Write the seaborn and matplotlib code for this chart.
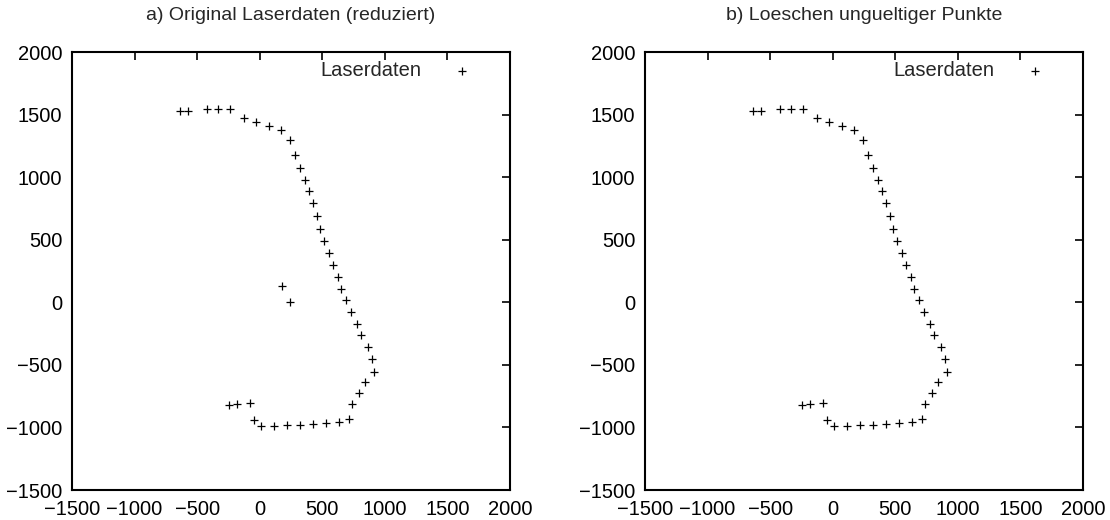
import numpy as np
import pandas as pd
import matplotlib
matplotlib.use("Agg")
import matplotlib.pyplot as plt
import seaborn as sns

# Reduced laser scan (x, y in mm)
scan_x = [-637, -571, -422, -337, -238, -122, -28, 71, 173, 245, 283, 322, 358,
          391, 424, 454, 484, 517, 553, 586, 622, 652, 691, 730, 774, 812, 862,
          898, 912, 845, 790, 735, 710, 630, 528, 424, 322, 220, 115, 10, -48,
          -75, -183, -243]
scan_y = [1531, 1531, 1544, 1544, 1547, 1472, 1440, 1406, 1374, 1294, 1179, 1075,
          979, 888, 790, 688, 587, 489, 393, 297, 201, 110, 19, -79, -175, -263,
          -359, -450, -556, -639, -727, -815, -932, -959, -967, -970, -980, -980,
          -986, -991, -938, -804, -812, -823]

# Invalid readings present only in the raw scan
invalid_x = [176, 239]
invalid_y = [129, 0]

titles = ["a) Original Laserdaten (reduziert)", "b) Loeschen ungueltiger Punkte"]
legend_label = "Laserdaten"
ticks = [-1500, -1000, -500, 0, 500, 1000, 1500, 2000]

raw = pd.DataFrame({"x": scan_x + invalid_x, "y": scan_y + invalid_y})
clean = pd.DataFrame({"x": scan_x, "y": scan_y})

sns.set_style("white")
plt.rcParams["font.family"] = ["Liberation Sans", "DejaVu Sans"]

fig = plt.figure(figsize=(11.1, 5.2), dpi=100)
W, H = 1110, 520
positions = [[72 / W, 30 / H, 438 / W, 438 / H],
             [645 / W, 30 / H, 438 / W, 438 / H]]

for pos, title, data in zip(positions, titles, [raw, clean]):
    ax = fig.add_axes(pos)
    sns.scatterplot(data=data, x="x", y="y", marker="+", color="black",
                    s=28, linewidth=0.9, ax=ax, label=legend_label)
    ax.set_xlim(-1500, 2000)
    ax.set_ylim(-1500, 2000)
    ax.set_xticks(ticks)
    ax.set_yticks(ticks)
    ax.set_xlabel("")
    ax.set_ylabel("")
    ax.tick_params(direction="in", length=6, width=1.2, top=True, right=True,
                   labelsize=14.5, colors="black", pad=7)
    for sp in ax.spines.values():
        sp.set_visible(True)
        sp.set_color("black")
        sp.set_linewidth(1.5)
    ax.set_title(title, fontsize=14, pad=23)
    ax.legend(loc="upper right", frameon=False, markerfirst=False,
              fontsize=14.5, handletextpad=1.0, borderaxespad=0.05,
              bbox_to_anchor=(0.956, 1.0))

fig.savefig("out.png", dpi=100)
